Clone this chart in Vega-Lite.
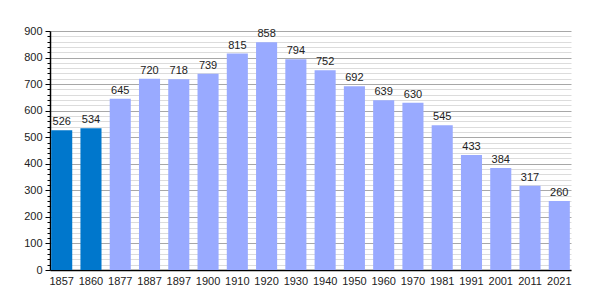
{
  "$schema": "https://vega.github.io/schema/vega-lite/v6.json",
  "width": 521,
  "height": 239,
  "autosize": {"type": "none"},
  "padding": {"left": 50, "top": 31, "right": 29, "bottom": 30},
  "background": "white",
  "config": {"view": {"stroke": null}, "font": "Liberation Sans"},
  "data": {"values": [
    {"year": "1857", "pop": 526, "kind": "a"},
    {"year": "1860", "pop": 534, "kind": "a"},
    {"year": "1877", "pop": 645, "kind": "b"},
    {"year": "1887", "pop": 720, "kind": "b"},
    {"year": "1897", "pop": 718, "kind": "b"},
    {"year": "1900", "pop": 739, "kind": "b"},
    {"year": "1910", "pop": 815, "kind": "b"},
    {"year": "1920", "pop": 858, "kind": "b"},
    {"year": "1930", "pop": 794, "kind": "b"},
    {"year": "1940", "pop": 752, "kind": "b"},
    {"year": "1950", "pop": 692, "kind": "b"},
    {"year": "1960", "pop": 639, "kind": "b"},
    {"year": "1970", "pop": 630, "kind": "b"},
    {"year": "1981", "pop": 545, "kind": "b"},
    {"year": "1991", "pop": 433, "kind": "b"},
    {"year": "2001", "pop": 384, "kind": "b"},
    {"year": "2011", "pop": 317, "kind": "b"},
    {"year": "2021", "pop": 260, "kind": "b"}
  ]},
  "encoding": {
    "x": {"field": "year", "type": "ordinal", "sort": null,
      "scale": {"paddingInner": 0.28, "paddingOuter": 0.04},
      "axis": {"title": null, "labelAngle": 0, "ticks": false, "labelFontSize": 11, "labelColor": "#222", "labelPadding": 5, "domainColor": "#000", "domainWidth": 1.5}},
    "y": {"field": "pop", "type": "quantitative",
      "scale": {"domain": [0, 900], "nice": false},
      "axis": {"title": null, "values": [0,20,40,60,80,100,120,140,160,180,200,220,240,260,280,300,320,340,360,380,400,420,440,460,480,500,520,540,560,580,600,620,640,660,680,700,720,740,760,780,800,820,840,860,880,900],
        "labelExpr": "datum.value % 100 === 0 ? datum.label : ''",
        "gridColor": {"condition": {"test": "datum.value % 100 === 0", "value": "#a8a8a8"}, "value": "#dcdcdc"},
        "tickSize": {"condition": {"test": "datum.value % 100 === 0", "value": 5}, "value": 3},
        "tickColor": "#000", "domainColor": "#000", "domainWidth": 1.5, "labelFontSize": 11, "labelColor": "#222", "labelPadding": 3, "labelOverlap": false}}
  },
  "layer": [
    {"mark": {"type": "bar"},
     "encoding": {"color": {"field": "kind", "type": "nominal", "legend": null,
       "scale": {"domain": ["a", "b"], "range": ["#0077cc", "#99aaff"]}}}},
    {"mark": {"type": "text", "baseline": "bottom", "dy": -3, "fontSize": 11, "color": "#222"},
     "encoding": {"text": {"field": "pop", "type": "quantitative"}}}
  ]
}
